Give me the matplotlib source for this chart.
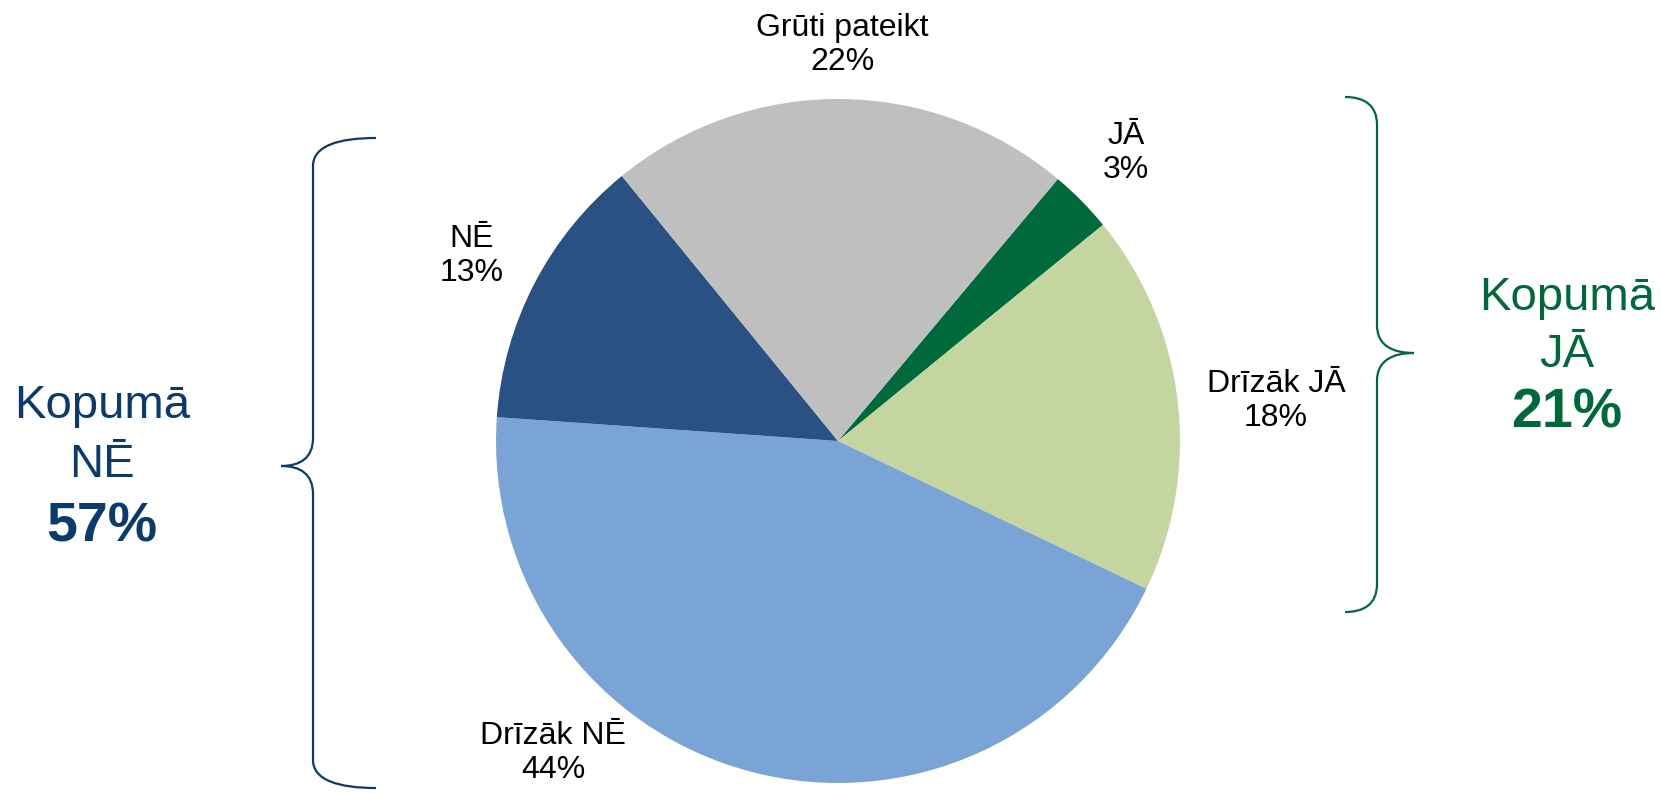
import matplotlib
matplotlib.use("Agg")
import matplotlib.pyplot as plt
from matplotlib.path import Path
from matplotlib.patches import PathPatch

plt.rcParams['font.family'] = ['Liberation Sans', 'DejaVu Sans']

# ---- data ----
categories = ["JĀ", "Drīzāk JĀ", "Drīzāk NĒ", "NĒ", "Grūti pateikt"]
values = [3, 18, 44, 13, 22]
colors = ["#006a3d", "#c5d59f", "#7ba4d6", "#2a5183", "#bfbfbf"]
total_no = 57
total_yes = 21

W, H = 1661, 793
fig = plt.figure(figsize=(W / 100, H / 100), dpi=100)
ax = fig.add_axes([0, 0, 1, 1])

def Y(y):
    # pixel row (from top) -> axis coordinate
    return H - y

ax.pie(values, colors=colors, startangle=50, counterclock=False,
       center=(838, Y(441)), radius=342, frame=True,
       wedgeprops=dict(linewidth=0))

# pie labels
label_pos = [(1126, 153), (1276, 401), (553, 753), (472, 256), (842, 45)]
for cat, val, (x, y) in zip(categories, values, label_pos):
    ax.text(x, Y(y), f"{cat}\n{val}%", ha="center", va="center",
            fontsize=23, linespacing=1.15, color="black")

def brace(x_end, x_line, x_tip, y_top, y_mid, y_bot, color):
    r = 28
    d = x_end - x_line
    t = x_tip - x_line
    verts = [
        (x_end, y_top),
        (x_line + d * 0.4, y_top), (x_line, y_top + 8), (x_line, y_top + r),
        (x_line, y_mid - r),
        (x_line, y_mid - 8), (x_line + t * 0.4, y_mid), (x_tip, y_mid),
        (x_line + t * 0.4, y_mid), (x_line, y_mid + 8), (x_line, y_mid + r),
        (x_line, y_bot - r),
        (x_line, y_bot - 8), (x_line + d * 0.4, y_bot), (x_end, y_bot),
    ]
    codes = [Path.MOVETO,
             Path.CURVE4, Path.CURVE4, Path.CURVE4,
             Path.LINETO,
             Path.CURVE4, Path.CURVE4, Path.CURVE4,
             Path.CURVE4, Path.CURVE4, Path.CURVE4,
             Path.LINETO,
             Path.CURVE4, Path.CURVE4, Path.CURVE4]
    verts = [(x, Y(y)) for x, y in verts]
    ax.add_patch(PathPatch(Path(verts, codes), facecolor="none",
                           edgecolor=color, linewidth=1.6))

blue = "#0b3a6e"
green = "#00693c"
brace(376, 313, 281, 138, 466, 788, blue)
brace(1345, 1377, 1414, 97, 353, 612, green)

ax.text(102, Y(406), "Kopumā", ha="center", va="center", fontsize=34, color=blue)
ax.text(102, Y(465), "NĒ", ha="center", va="center", fontsize=34, color=blue)
ax.text(102, Y(528), f"{total_no}%", ha="center", va="center", fontsize=40,
        fontweight="bold", color=blue)

ax.text(1567, Y(298), "Kopumā", ha="center", va="center", fontsize=34, color=green)
ax.text(1567, Y(355), "JĀ", ha="center", va="center", fontsize=34, color=green)
ax.text(1567, Y(414), f"{total_yes}%", ha="center", va="center", fontsize=40,
        fontweight="bold", color=green)

ax.set_xlim(0, W)
ax.set_ylim(0, H)
ax.set_aspect("equal")
ax.axis("off")

fig.savefig("out.png", dpi=100, facecolor="white")
